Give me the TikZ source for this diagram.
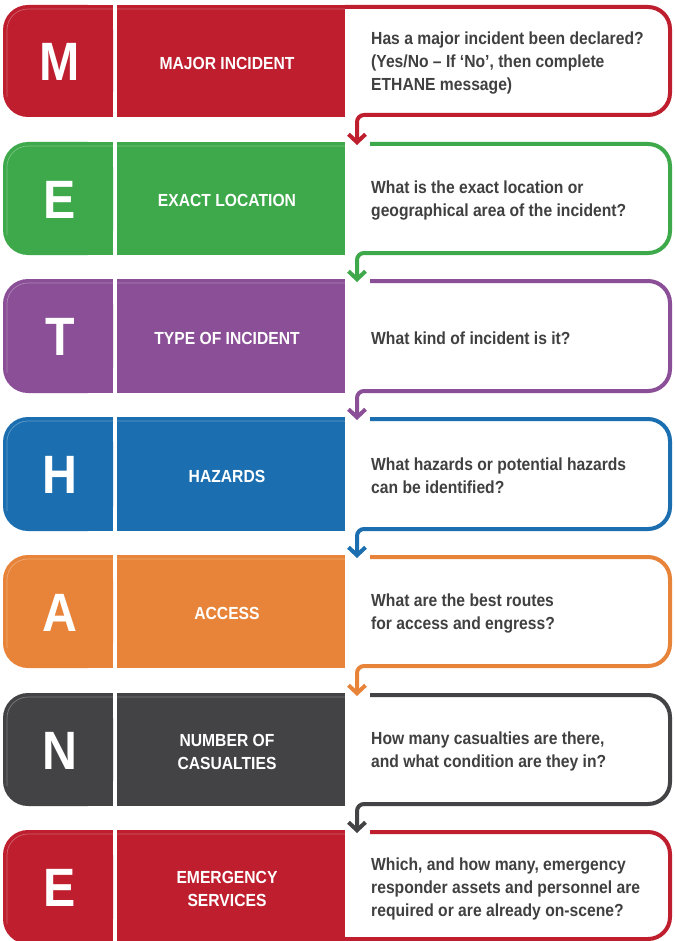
\documentclass[tikz,border=0pt]{standalone}
\usepackage{fontspec}
\newfontfamily\condfont{Liberation Sans}[FakeStretch=0.895]
\usetikzlibrary{arrows.meta}
\definecolor{mred}{HTML}{BE1E2D}
\definecolor{mgreen}{HTML}{3EA94B}
\definecolor{mpurple}{HTML}{8A4F96}
\definecolor{mblue}{HTML}{1B6FB0}
\definecolor{morange}{HTML}{E8843A}
\definecolor{mdark}{HTML}{434345}
\definecolor{qgrey}{HTML}{404041}
\tikzset{
  bigletter/.style={text=white, font=\condfont\bfseries\fontsize{54}{54}\selectfont, inner sep=0pt},
  labeltext/.style={text=white, font=\condfont\bfseries\fontsize{17.5}{23}\selectfont, align=center, inner sep=0pt},
  questext/.style={text=qgrey, font=\condfont\bfseries\fontsize{17.5}{23}\selectfont, align=left, anchor=west, inner sep=0pt},
  lettercell/.style={rounded corners=25pt, minimum width=110pt, inner sep=0pt, draw=none},
  boxline/.style={line width=4pt, rounded corners=22pt},
  flowarrow/.style={-{Straight Barb[length=8pt,width=17pt]}},
  shine/.style={draw=white, opacity=0.3, line width=0.7pt, rounded corners=21pt},
}
% #1 id, #2 top, #3 bottom, #4 colour, #5 letter, #6 label, #7 question
\newcommand\methrow[7]{%
  \fill[#4] (60,#2) rectangle (113,#3);
  \node[lettercell, fill=#4, minimum height={#3-#2}] (L#1) at (58,{(#2+#3)/2}) {};
  \fill[#4] (117,#2) rectangle (345,#3);
  \path[shine] (345,#2+4) -- (7,#2+4) -- (7,#3-20);
  \node[bigletter] (K#1) at (60,{(#2+#3)/2+1}) {#5};
  \node[labeltext] (B#1) at (227,{(#2+#3)/2+2}) {#6};
  \node[questext] (Q#1) at (371,{(#2+#3)/2+2}) {#7};
}
\begin{document}
\begin{tikzpicture}[x=1pt,y=-1pt]
\useasboundingbox (0,0) rectangle (674,941);
\fill[white] (0,0) rectangle (674,941);

\methrow{1}{5}{117}{mred}{M}{MAJOR INCIDENT}{Has a major incident been declared?\\(Yes/No – If ‘No’, then complete\\ETHANE message)}
\methrow{2}{142}{255}{mgreen}{E}{EXACT LOCATION}{What is the exact location or\\geographical area of the incident?}
\methrow{3}{279}{393}{mpurple}{T}{TYPE OF INCIDENT}{What kind of incident is it?}
\methrow{4}{417}{531}{mblue}{H}{HAZARDS}{What hazards or potential hazards\\can be identified?}
\methrow{5}{555}{668}{morange}{A}{ACCESS}{What are the best routes\\for access and engress?}
\methrow{6}{693}{806}{mdark}{N}{NUMBER OF\\CASUALTIES}{How many casualties are there,\\and what condition are they in?}
\methrow{7}{830}{944}{mred}{E}{EMERGENCY\\SERVICES}{Which, and how many, emergency\\responder assets and personnel are\\required or are already on-scene?}

\coordinate (A1) at (357,145);
\coordinate (A2) at (357,282);
\coordinate (A3) at (357,420);
\coordinate (A4) at (357,558);
\coordinate (A5) at (357,696);
\coordinate (A6) at (357,833);

\draw[boxline, mred, flowarrow] (345,7) -- (670,7) -- (670,115) -- (400,115) [rounded corners=7pt] -- (357,115) -- (A1);
\draw[boxline, mgreen, flowarrow] (370,144) -- (670,144) -- (670,253) -- (400,253) [rounded corners=7pt] -- (357,253) -- (A2);
\draw[boxline, mpurple, flowarrow] (370,281) -- (670,281) -- (670,391) -- (400,391) [rounded corners=7pt] -- (357,391) -- (A3);
\draw[boxline, mblue, flowarrow] (370,419) -- (670,419) -- (670,529) -- (400,529) [rounded corners=7pt] -- (357,529) -- (A4);
\draw[boxline, morange, flowarrow] (370,557) -- (670,557) -- (670,666) -- (400,666) [rounded corners=7pt] -- (357,666) -- (A5);
\draw[boxline, mdark, flowarrow] (370,695) -- (670,695) -- (670,804) -- (400,804) [rounded corners=7pt] -- (357,804) -- (A6);
\draw[boxline, mred] (370,832) -- (670,832) -- (670,939) -- (345,939);
\end{tikzpicture}
\end{document}
